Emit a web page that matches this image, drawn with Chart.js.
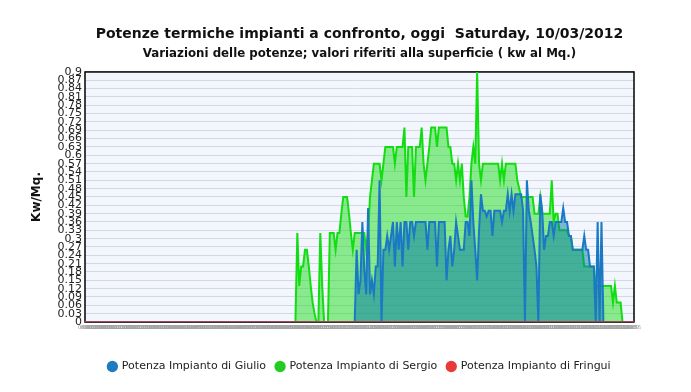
<!DOCTYPE html>
<html>
<head>
<meta charset="utf-8">
<script src="https://cdn.jsdelivr.net/npm/chart.js@4/dist/chart.umd.min.js"></script>
<style>
  html, body { margin: 0; padding: 0; background: #fff; }
  #wrap { width: 691px; height: 392px; }
</style>
</head>
<body>
<div id="wrap"><canvas id="grafico"></canvas></div>
<script>
// Orari (ogni 5 minuti)
const orari = [
  '00:00','00:05','00:10','00:15','00:20','00:25','00:30','00:35','00:40','00:45','00:50','00:55',
  '01:00','01:05','01:10','01:15','01:20','01:25','01:30','01:35','01:40','01:45','01:50','01:55',
  '02:00','02:05','02:10','02:15','02:20','02:25','02:30','02:35','02:40','02:45','02:50','02:55',
  '03:00','03:05','03:10','03:15','03:20','03:25','03:30','03:35','03:40','03:45','03:50','03:55',
  '04:00','04:05','04:10','04:15','04:20','04:25','04:30','04:35','04:40','04:45','04:50','04:55',
  '05:00','05:05','05:10','05:15','05:20','05:25','05:30','05:35','05:40','05:45','05:50','05:55',
  '06:00','06:05','06:10','06:15','06:20','06:25','06:30','06:35','06:40','06:45','06:50','06:55',
  '07:00','07:05','07:10','07:15','07:20','07:25','07:30','07:35','07:40','07:45','07:50','07:55',
  '08:00','08:05','08:10','08:15','08:20','08:25','08:30','08:35','08:40','08:45','08:50','08:55',
  '09:00','09:05','09:10','09:15','09:20','09:25','09:30','09:35','09:40','09:45','09:50','09:55',
  '10:00','10:05','10:10','10:15','10:20','10:25','10:30','10:35','10:40','10:45','10:50','10:55',
  '11:00','11:05','11:10','11:15','11:20','11:25','11:30','11:35','11:40','11:45','11:50','11:55',
  '12:00','12:05','12:10','12:15','12:20','12:25','12:30','12:35','12:40','12:45','12:50','12:55',
  '13:00','13:05','13:10','13:15','13:20','13:25','13:30','13:35','13:40','13:45','13:50','13:55',
  '14:00','14:05','14:10','14:15','14:20','14:25','14:30','14:35','14:40','14:45','14:50','14:55',
  '15:00','15:05','15:10','15:15','15:20','15:25','15:30','15:35','15:40','15:45','15:50','15:55',
  '16:00','16:05','16:10','16:15','16:20','16:25','16:30','16:35','16:40','16:45','16:50','16:55',
  '17:00','17:05','17:10','17:15','17:20','17:25','17:30','17:35','17:40','17:45','17:50','17:55',
  '18:00','18:05','18:10','18:15','18:20','18:25','18:30','18:35','18:40','18:45','18:50','18:55',
  '19:00','19:05','19:10','19:15','19:20','19:25','19:30','19:35','19:40','19:45','19:50','19:55',
  '20:00','20:05','20:10','20:15','20:20','20:25','20:30','20:35','20:40','20:45','20:50','20:55',
  '21:00','21:05','21:10','21:15','21:20','21:25','21:30','21:35','21:40','21:45','21:50','21:55',
  '22:00','22:05','22:10','22:15','22:20','22:25','22:30','22:35','22:40','22:45','22:50','22:55',
  '23:00','23:05','23:10','23:15','23:20','23:25','23:30','23:35','23:40','23:45','23:50','23:55'
];

// Potenza Impianto di Giulio (kw/mq)
const giulio = [
  0,0,0,0,0,0,0,0,0,0, 0,0,0,0,0,0,0,0,0,0, 0,0,0,0,0,0,0,0,0,0,
  0,0,0,0,0,0,0,0,0,0, 0,0,0,0,0,0,0,0,0,0, 0,0,0,0,0,0,0,0,0,0,
  0,0,0,0,0,0,0,0,0,0, 0,0,0,0,0,0,0,0,0,0, 0,0,0,0,0,0,0,0,0,0,
  0,0,0,0,0,0,0,0,0,0, 0,0,0,0,0,0,0,0,0,0, 0,0,0,0,0,0,0,0,0,0,
  0,0,0,0,0,0,0,0,0,0, 0,0,0,0,0,0,0,0,0,0,
  0,0,0.26,0.1,0.15,0.36,0.19,0.1,0.41,0.1,
  0.15,0.1,0.2,0.2,0.51,0,0.26,0.26,0.31,0.26,
  0.31,0.36,0.2,0.36,0.26,0.36,0.2,0.36,0.36,0.26,
  0.36,0.36,0.31,0.36,0.36,0.36,0.36,0.36,0.36,0.26,
  0.36,0.36,0.36,0.36,0.2,0.36,0.36,0.36,0.36,0.15,
  0.26,0.31,0.2,0.26,0.36,0.31,0.26,0.26,0.26,0.36,
  0.36,0.31,0.51,0.36,0.26,0.15,0.33,0.46,0.4,0.4,
  0.38,0.4,0.4,0.31,0.4,0.4,0.4,0.4,0.36,0.4,
  0.4,0.46,0.4,0.46,0.4,0.46,0.46,0.46,0.46,0.4,
  0,0.51,0.4,0.36,0.31,0.26,0.2,0,0.46,0.4,
  0.26,0.31,0.31,0.36,0.36,0.31,0.36,0.36,0.36,0.36,
  0.41,0.36,0.36,0.31,0.31,0.26,0.26,0.26,0.26,0.26,
  0.26,0.31,0.26,0.26,0.2,0.2,0.2,0,0.36,0,
  0.36,0,0,0,0,0,0,0,0,0,
  0,0,0,0,0,0,0,0
];

// Potenza Impianto di Sergio (kw/mq)
const sergio = [
  0,0,0,0,0,0,0,0,0,0, 0,0,0,0,0,0,0,0,0,0, 0,0,0,0,0,0,0,0,0,0,
  0,0,0,0,0,0,0,0,0,0, 0,0,0,0,0,0,0,0,0,0, 0,0,0,0,0,0,0,0,0,0,
  0,0,0,0,0,0,0,0,0,0, 0,0,0,0,0,0,0,0,0,0, 0,0,0,0,0,0,0,0,0,0,
  0,0,0,0,0,0,0,0,0,0, 0,0,0,0,0,0,0,0,0,0,
  0,0.32,0.13,0.2,0.2,0.26,0.26,0.2,0.13,0.07,
  0.03,0,0,0.32,0.13,0,0,0,0.32,0.32,
  0.32,0.26,0.32,0.32,0.39,0.45,0.45,0.45,0.39,0.32,
  0.26,0.32,0.32,0.32,0.32,0.32,0.32,0.26,0.32,0.45,
  0.51,0.57,0.57,0.57,0.57,0.51,0.57,0.63,0.63,0.63,
  0.63,0.63,0.57,0.63,0.63,0.63,0.63,0.7,0.45,0.63,
  0.63,0.63,0.45,0.63,0.63,0.63,0.7,0.57,0.51,0.57,
  0.63,0.7,0.7,0.7,0.63,0.7,0.7,0.7,0.7,0.7,
  0.63,0.63,0.57,0.57,0.51,0.57,0.51,0.57,0.45,0.38,
  0.38,0.45,0.57,0.63,0.57,0.9,0.57,0.51,0.57,0.57,
  0.57,0.57,0.57,0.57,0.57,0.57,0.57,0.51,0.57,0.51,
  0.57,0.57,0.57,0.57,0.57,0.57,0.51,0.48,0.45,0.45,
  0.45,0.45,0.45,0.45,0.45,0.39,0.39,0.39,0.45,0.39,
  0.39,0.39,0.39,0.39,0.51,0.36,0.39,0.39,0.33,0.33,
  0.33,0.33,0.33,0.31,0.31,0.26,0.26,0.26,0.26,0.26,
  0.26,0.2,0.2,0.2,0.2,0.2,0.2,0.13,0.13,0.13,
  0.13,0.13,0.13,0.13,0.13,0.13,0.07,0.13,0.07,0.07,
  0.07,0,0,0,0,0,0,0
];

// Potenza Impianto di Fringui (kw/mq)
const fringui = [
  0,0,0,0,0,0,0,0,0,0, 0,0,0,0,0,0,0,0,0,0, 0,0,0,0,0,0,0,0,0,0,
  0,0,0,0,0,0,0,0,0,0, 0,0,0,0,0,0,0,0,0,0, 0,0,0,0,0,0,0,0,0,0,
  0,0,0,0,0,0,0,0,0,0, 0,0,0,0,0,0,0,0,0,0, 0,0,0,0,0,0,0,0,0,0,
  0,0,0,0,0,0,0,0,0,0, 0,0,0,0,0,0,0,0,0,0, 0,0,0,0,0,0,0,0,0,0,
  0,0,0,0,0,0,0,0,0,0, 0,0,0,0,0,0,0,0,0,0, 0,0,0,0,0,0,0,0,0,0,
  0,0,0,0,0,0,0,0,0,0, 0,0,0,0,0,0,0,0,0,0, 0,0,0,0,0,0,0,0,0,0,
  0,0,0,0,0,0,0,0,0,0, 0,0,0,0,0,0,0,0,0,0, 0,0,0,0,0,0,0,0,0,0,
  0,0,0,0,0,0,0,0,0,0, 0,0,0,0,0,0,0,0,0,0, 0,0,0,0,0,0,0,0,0,0,
  0,0,0,0,0,0,0,0,0,0, 0,0,0,0,0,0,0,0,0,0, 0,0,0,0,0,0,0,0,0,0,
  0,0,0,0,0,0,0,0,0,0, 0,0,0,0,0,0,0,0,0,0, 0,0,0,0,0,0,0,0
];

// Tacche asse Y
const tacche = [0, 0.03, 0.06, 0.09, 0.12, 0.15, 0.18, 0.21, 0.24, 0.27, 0.3,
  0.33, 0.36, 0.39, 0.42, 0.45, 0.48, 0.51, 0.54, 0.57, 0.6,
  0.63, 0.66, 0.69, 0.72, 0.75, 0.78, 0.81, 0.84, 0.87, 0.9];

const FONT = "'DejaVu Sans', Verdana, sans-serif";
const coloriLegenda = ['#1f7bc0', '#22cc22', '#e83a3a'];

// Sfondo area grafico e bordo nero
const sfondo = {
  id: 'sfondo',
  beforeDraw(chart) {
    const { ctx, chartArea: a } = chart;
    ctx.save();
    ctx.fillStyle = '#fff';
    ctx.fillRect(0, 0, chart.width, chart.height);
    ctx.fillStyle = '#f4f6fd';
    ctx.fillRect(a.left, a.top, a.right - a.left, a.bottom - a.top);
    ctx.restore();
  },
  beforeDatasetsDraw(chart) {
    const { ctx, chartArea: a } = chart;
    ctx.save();
    ctx.strokeStyle = '#000';
    ctx.lineWidth = 1.5;
    ctx.strokeRect(a.left, a.top, a.right - a.left, a.bottom - a.top);
    ctx.restore();
  }
};

new Chart(document.getElementById('grafico'), {
  type: 'line',
  data: {
    labels: orari,
    datasets: [
      {
        label: 'Potenza Impianto di Giulio',
        data: giulio,
        borderColor: '#1a78c4',
        backgroundColor: 'rgba(0,120,165,0.5)',
        fill: 'origin',
        borderWidth: 2,
        pointRadius: 0,
        tension: 0,
        order: 1
      },
      {
        label: 'Potenza Impianto di Sergio',
        data: sergio,
        borderColor: '#11dd11',
        backgroundColor: 'rgba(30,220,30,0.5)',
        fill: 'origin',
        borderWidth: 2,
        pointRadius: 0,
        tension: 0,
        order: 2
      },
      {
        label: 'Potenza Impianto di Fringui',
        data: fringui,
        borderColor: '#d83030',
        backgroundColor: '#d83030',
        fill: false,
        borderWidth: 1.5,
        pointRadius: 0,
        tension: 0,
        order: 0
      }
    ]
  },
  options: {
    responsive: true,
    maintainAspectRatio: false,
    animation: false,
    layout: { padding: { top: 26, right: 57, bottom: 10, left: 30 } },
    scales: {
      x: {
        offset: false,
        grid: { display: false, drawTicks: false },
        border: { display: false },
        ticks: {
          autoSkip: false,
          maxRotation: 0,
          minRotation: 0,
          padding: 3,
          color: '#a0a0a0',
          font: { family: FONT, size: 5 }
        },
        afterFit(s) { s.height = 29; }
      },
      y: {
        min: 0,
        max: 0.9,
        afterBuildTicks(s) { s.ticks = tacche.map(v => ({ value: v })); },
        grid: { color: '#d2d8e8', drawTicks: false },
        border: { display: false },
        ticks: {
          autoSkip: false,
          padding: 3,
          color: '#222',
          font: { family: FONT, size: 11 },
          callback: v => String(v)
        },
        title: {
          display: true,
          text: 'Kw/Mq.',
          color: '#111',
          font: { family: FONT, size: 12, weight: 'bold' },
          padding: 0
        },
        afterFit(s) { s.width = 55; }
      }
    },
    plugins: {
      title: {
        display: true,
        fullSize: false,
        text: 'Potenze termiche impianti a confronto, oggi  Saturday, 10/03/2012',
        color: '#111',
        font: { family: FONT, size: 14, weight: 'bold' },
        padding: { top: 0, bottom: 4 }
      },
      subtitle: {
        display: true,
        fullSize: false,
        text: 'Variazioni delle potenze; valori riferiti alla superficie ( kw al Mq.)',
        color: '#111',
        font: { family: FONT, size: 11.8, weight: 'bold' },
        padding: { top: 0, bottom: 11 }
      },
      legend: {
        position: 'bottom',
        fullSize: false,
        labels: {
          usePointStyle: true,
          pointStyle: 'circle',
          boxWidth: 8,
          boxHeight: 8,
          padding: 10,
          color: '#222',
          font: { family: FONT, size: 11 },
          sort: (a, b) => a.datasetIndex - b.datasetIndex,
          generateLabels(chart) {
            return Chart.defaults.plugins.legend.labels.generateLabels(chart).map(it => {
              it.fillStyle = coloriLegenda[it.datasetIndex];
              it.strokeStyle = coloriLegenda[it.datasetIndex];
              it.lineWidth = 0;
              return it;
            });
          }
        }
      },
      tooltip: { enabled: false }
    }
  },
  plugins: [sfondo]
});
</script>
</body>
</html>
